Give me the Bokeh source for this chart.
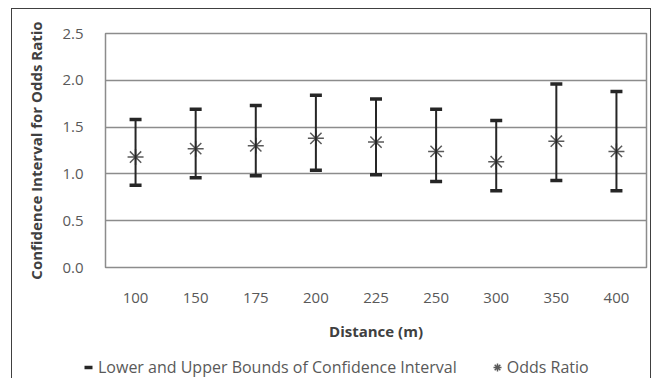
from bokeh.plotting import figure
from bokeh.models import Range1d, Legend, LegendItem, CustomJSTickFormatter
from bokeh.embed import file_html
from bokeh.resources import INLINE

distances = ["100", "150", "175", "200", "225", "250", "300", "350", "400"]
odds_ratio = [1.18, 1.27, 1.30, 1.38, 1.34, 1.24, 1.13, 1.35, 1.24]
lower_bound = [0.88, 0.96, 0.98, 1.04, 0.99, 0.92, 0.82, 0.93, 0.82]
upper_bound = [1.58, 1.69, 1.73, 1.84, 1.80, 1.69, 1.57, 1.96, 1.88]
y_ticks = [0.0, 0.5, 1.0, 1.5, 2.0, 2.5]

FONT = "Open Sans"
TICK_COLOR = "#595959"
TITLE_COLOR = "#404040"
BAR_COLOR = "#262626"
MARK_COLOR = "#595959"
BORDER = "1px solid #404040"

# ---- main chart ----
p = figure(x_range=distances, y_range=Range1d(0, 2.5), width=640, height=340,
           output_backend="svg", toolbar_location=None,
           min_border_left=93, min_border_right=6, min_border_top=24, min_border_bottom=82)
p.styles = {"margin-left": "11px", "margin-top": "8px",
            "border-left": BORDER, "border-top": BORDER, "border-right": BORDER}

p.outline_line_color = "#8c8c8c"
p.outline_line_width = 1.5
p.xgrid.grid_line_color = None
p.ygrid.grid_line_color = "#8c8c8c"
p.ygrid.grid_line_width = 1.5
p.yaxis.ticker = y_ticks
p.yaxis.formatter = CustomJSTickFormatter(code="return tick.toFixed(1);")

for ax in (p.xaxis[0], p.yaxis[0]):
    ax.axis_line_color = None
    ax.major_tick_line_color = None
    ax.minor_tick_line_color = None
    ax.major_tick_in = 0
    ax.major_tick_out = 0
    ax.major_label_text_font = FONT
    ax.major_label_text_font_size = "15px"
    ax.major_label_text_color = TICK_COLOR
    ax.axis_label_text_font = FONT
    ax.axis_label_text_font_size = "15px"
    ax.axis_label_text_font_style = "bold"
    ax.axis_label_text_color = TITLE_COLOR

p.xaxis.axis_label = "Distance (m)"
p.yaxis.axis_label = "Confidence Interval for Odds Ratio"
p.xaxis.major_label_standoff = 25
p.xaxis.axis_label_standoff = 15
p.yaxis.major_label_standoff = 22
p.yaxis.axis_label_standoff = 13

p.scatter(x=distances, y=odds_ratio, marker="asterisk", size=16,
          line_color=MARK_COLOR, line_width=1.5)
p.segment(x0=distances, y0=lower_bound, x1=distances, y1=upper_bound,
          line_color=BAR_COLOR, line_width=2)
p.scatter(x=distances, y=lower_bound, marker="dash", size=12,
          line_color=BAR_COLOR, line_width=3.5)
p.scatter(x=distances, y=upper_bound, marker="dash", size=12,
          line_color=BAR_COLOR, line_width=3.5)

# ---- legend strip (same series; its data lie outside its visible range) ----
q = figure(x_range=distances, y_range=Range1d(10, 11), width=640, height=30,
           output_backend="svg", toolbar_location=None,
           x_axis_location=None, y_axis_location=None,
           min_border_left=0, min_border_right=0, min_border_top=0, min_border_bottom=0)
q.styles = {"margin-left": "11px", "border-left": BORDER, "border-right": BORDER}
q.grid.grid_line_color = None
q.outline_line_color = None
lo = q.scatter(x=distances, y=lower_bound, marker="dash", size=12,
               line_color=BAR_COLOR, line_width=3.5)
orr = q.scatter(x=distances, y=odds_ratio, marker="asterisk", size=16,
                line_color=MARK_COLOR, line_width=1.5)

legend = Legend(items=[
    LegendItem(label="Lower and Upper Bounds of Confidence Interval", renderers=[lo]),
    LegendItem(label="Odds Ratio", renderers=[orr]),
], orientation="horizontal", location=(66, 0),
    label_text_font=FONT, label_text_font_size="16px", label_text_color=TICK_COLOR,
    glyph_width=20, glyph_height=20, label_standoff=0, spacing=30,
    padding=0, margin=0, border_line_color=None, background_fill_alpha=0)
q.add_layout(legend, "center")

open("out.html", "w").write(file_html([p, q], INLINE))
